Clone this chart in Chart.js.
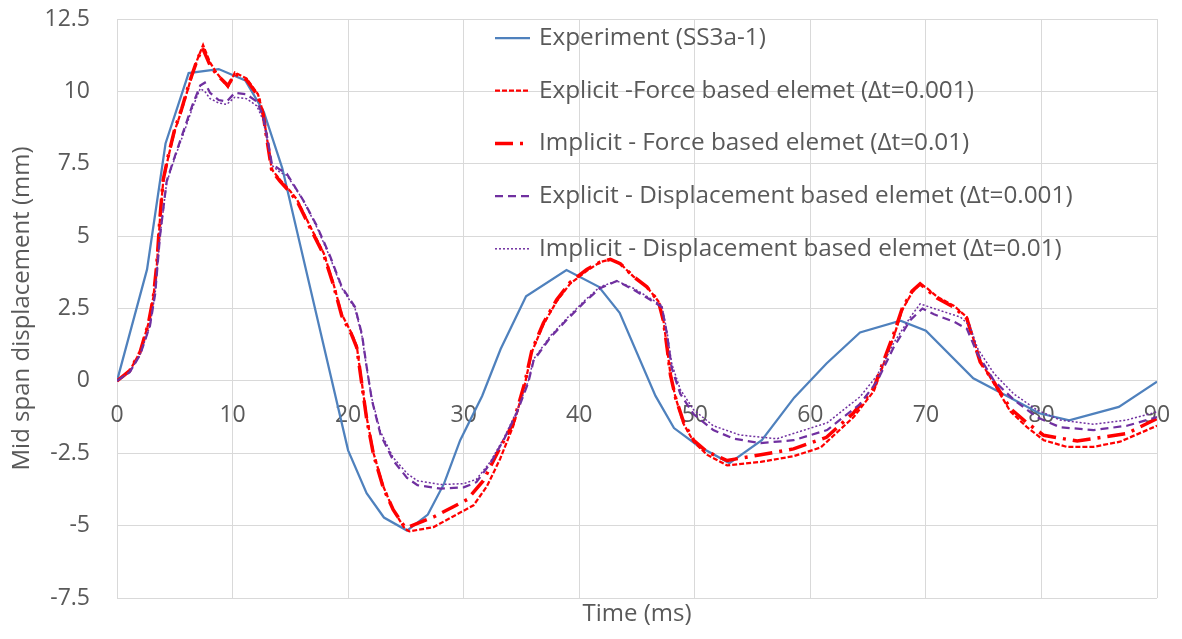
<!DOCTYPE html>
<html>
<head>
<meta charset="utf-8">
<script src="https://cdn.jsdelivr.net/npm/chart.js@4"></script>
<style>
  html, body { margin: 0; padding: 0; background: #fff; }
</style>
</head>
<body>
<canvas id="myChart" width="1182" height="639"></canvas>
<script>
"use strict"

const ctx = document.getElementById("myChart")

// Experiment (SS3a-1)
const expTime = [0, 2.6, 4.2, 6.2, 8.8, 11.1, 12.7, 14.3, 20.0, 21.6, 23.1, 25.1, 26.9, 28.3, 29.7, 31.6, 33.2, 35.4, 38.9, 41.7, 43.5, 46.6, 48.2, 50.3, 53.0, 55.8, 58.6, 61.4, 64.3, 67.8, 70.0, 74.1, 77.3, 79.8, 82.4, 86.7, 90]
const expDisp = [0, 3.85, 8.2, 10.63, 10.77, 10.38, 9.3, 7.35, -2.4, -3.88, -4.72, -5.17, -4.62, -3.55, -2.05, -0.52, 1.1, 2.92, 3.83, 3.25, 2.35, -0.52, -1.63, -2.25, -2.84, -2.05, -0.58, 0.6, 1.67, 2.08, 1.73, 0.09, -0.58, -1.12, -1.36, -0.9, -0.03]

// Explicit - force based (dt=0.001)
const efTime = [0, 1.1, 2.0, 2.7, 3.15, 3.45, 3.72, 4.0, 4.45, 5.0, 5.6, 6.3, 6.95, 7.45, 8.05, 8.6, 9.6, 10.2, 11.2, 12.2, 12.65, 12.95, 13.4, 14.1, 15.0, 15.6, 16.7, 17.9, 18.7, 19.45, 20.3, 20.75, 21.2, 21.6, 22.2, 23.05, 23.9, 24.9, 25.3, 27.4, 29.0, 30.85, 32.0, 33.15, 34.3, 35.3, 35.9, 36.9, 38.05, 39.2, 40.65, 41.8, 42.7, 43.55, 44.7, 45.85, 46.85, 47.3, 47.6, 47.9, 48.35, 49.05, 49.9, 51.05, 52.8, 55.7, 58.55, 60.9, 63.75, 65.5, 66.35, 67.2, 67.95, 68.8, 69.5, 70.1, 71.0, 72.4, 73.55, 74.15, 74.7, 75.9, 77.3, 78.75, 80.2, 82.2, 84.5, 86.8, 90]
const efDisp = [0, 0.35, 1.0, 1.95, 2.9, 4.0, 5.6, 6.9, 7.75, 8.65, 9.35, 10.3, 11.1, 11.6, 11.0, 10.65, 10.15, 10.65, 10.45, 9.9, 9.25, 8.45, 7.3, 6.95, 6.55, 6.25, 5.35, 4.4, 3.4, 2.3, 1.65, 1.2, -0.1, -1.25, -2.5, -3.65, -4.45, -5.1, -5.2, -5.05, -4.7, -4.3, -3.65, -2.7, -1.55, -0.1, 1.0, 1.95, 2.75, 3.35, 3.8, 4.1, 4.2, 4.05, 3.6, 3.25, 2.75, 2.05, 1.15, 0.2, -0.6, -1.5, -2.1, -2.55, -2.92, -2.8, -2.6, -2.3, -1.25, -0.35, 0.6, 1.5, 2.45, 3.05, 3.35, 3.2, 2.9, 2.6, 2.2, 1.4, 0.7, -0.1, -1.05, -1.6, -2.05, -2.28, -2.28, -2.1, -1.55]

// Implicit - force based (dt=0.01)
const ifTime = [0, 1.1, 2.0, 2.7, 3.15, 3.45, 3.72, 4.0, 4.45, 5.0, 5.6, 6.3, 6.95, 7.4, 8.05, 8.6, 9.6, 10.2, 11.2, 12.2, 12.65, 12.95, 13.4, 14.1, 15.0, 15.6, 16.7, 17.9, 18.7, 19.45, 20.3, 20.75, 21.2, 21.6, 22.2, 23.05, 23.9, 24.9, 25.2, 27.4, 30.3, 31.7, 32.9, 34.3, 35.3, 35.9, 36.9, 38.05, 39.2, 40.65, 41.8, 42.7, 43.55, 44.7, 45.85, 46.85, 47.3, 47.6, 47.9, 48.35, 49.05, 49.9, 51.05, 52.8, 55.7, 58.55, 61.4, 63.75, 65.5, 66.35, 67.2, 67.95, 68.8, 69.5, 70.1, 71.0, 72.4, 73.55, 74.15, 74.7, 75.9, 77.3, 78.75, 80.2, 83.1, 87.4, 90]
const ifDisp = [0, 0.35, 1.0, 1.95, 2.9, 4.05, 5.65, 6.95, 7.8, 8.7, 9.4, 10.35, 11.1, 11.5, 10.9, 10.6, 10.2, 10.6, 10.4, 9.85, 9.2, 8.4, 7.25, 6.9, 6.5, 6.2, 5.3, 4.35, 3.35, 2.25, 1.6, 1.15, -0.15, -1.3, -2.55, -3.7, -4.45, -5.05, -5.05, -4.7, -4.1, -3.45, -2.5, -1.45, -0.05, 1.05, 2.0, 2.8, 3.4, 3.85, 4.1, 4.2, 4.05, 3.6, 3.25, 2.75, 2.05, 1.15, 0.2, -0.6, -1.45, -2.05, -2.45, -2.75, -2.55, -2.35, -1.95, -1.1, -0.25, 0.7, 1.6, 2.5, 3.1, 3.35, 3.15, 2.85, 2.55, 2.15, 1.35, 0.65, -0.05, -0.95, -1.45, -1.88, -2.08, -1.82, -1.3]

// Explicit - displacement based (dt=0.001)
const edTime = [0, 1.1, 2.0, 2.85, 3.3, 3.72, 4.3, 5.0, 5.9, 6.5, 7.2, 7.6, 8.05, 8.8, 9.5, 10.2, 11.2, 12.1, 12.65, 13.1, 13.4, 14.1, 14.7, 16.1, 17.3, 18.45, 19.45, 20.6, 21.2, 21.6, 22.05, 22.8, 23.9, 25.1, 26.0, 28.0, 30.0, 31.1, 32.3, 33.45, 34.6, 35.6, 36.05, 37.5, 38.9, 40.4, 41.8, 43.25, 44.7, 46.15, 47.15, 47.6, 48.0, 48.75, 49.9, 51.6, 53.4, 55.7, 58.55, 61.45, 64.3, 65.8, 67.2, 68.65, 69.7, 70.7, 72.4, 73.55, 74.45, 75.9, 77.6, 79.6, 81.6, 84.5, 87.4, 90]
const edDisp = [0, 0.3, 0.9, 1.9, 3.0, 5.0, 6.9, 7.75, 8.8, 9.5, 10.2, 10.3, 9.95, 9.7, 9.65, 9.95, 9.9, 9.65, 9.15, 8.2, 7.5, 7.3, 7.15, 6.25, 5.35, 4.3, 3.25, 2.55, 1.6, 0.5, -0.65, -1.85, -2.75, -3.35, -3.6, -3.72, -3.68, -3.5, -2.85, -2.05, -1.1, -0.05, 0.7, 1.5, 2.1, 2.7, 3.2, 3.45, 3.15, 2.8, 2.55, 1.6, 0.45, -0.45, -1.15, -1.7, -2.0, -2.15, -2.05, -1.7, -0.8, 0.0, 1.15, 2.1, 2.5, 2.3, 2.05, 1.8, 0.95, 0.0, -0.65, -1.25, -1.6, -1.7, -1.55, -1.25]

// Implicit - displacement based (dt=0.01)
const idTime = [0, 1.1, 2.0, 2.85, 3.3, 3.72, 4.3, 5.0, 5.9, 6.5, 7.2, 7.6, 8.05, 8.8, 9.5, 10.2, 11.2, 12.1, 12.65, 13.1, 13.4, 14.1, 14.7, 16.1, 17.3, 18.45, 19.45, 20.6, 21.2, 21.6, 22.05, 22.8, 23.9, 25.1, 26.0, 28.0, 30.0, 31.1, 32.3, 33.45, 34.6, 35.6, 36.05, 37.5, 38.9, 40.4, 41.8, 43.25, 44.7, 46.15, 47.15, 47.6, 48.0, 48.75, 49.9, 51.6, 53.9, 57.1, 61.45, 64.3, 65.8, 67.2, 68.65, 69.5, 70.7, 73.0, 73.8, 74.5, 75.9, 77.6, 79.6, 81.6, 84.5, 87.4, 90]
const idDisp = [0, 0.3, 0.9, 1.9, 3.0, 5.0, 6.85, 7.7, 8.7, 9.4, 10.1, 10.0, 9.75, 9.6, 9.55, 9.8, 9.75, 9.5, 9.0, 8.1, 7.45, 7.2, 7.1, 6.25, 5.3, 4.25, 3.2, 2.5, 1.55, 0.45, -0.6, -1.75, -2.65, -3.2, -3.45, -3.58, -3.55, -3.4, -2.8, -2.0, -1.05, 0.0, 0.75, 1.55, 2.15, 2.75, 3.25, 3.45, 3.2, 2.85, 2.6, 1.7, 0.6, -0.3, -1.0, -1.55, -1.87, -2.0, -1.45, -0.55, 0.2, 1.3, 2.2, 2.66, 2.5, 2.2, 1.9, 1.1, 0.25, -0.45, -1.0, -1.35, -1.5, -1.35, -1.07]

const seriesLabels = [
  "Experiment (SS3a-1)",
  "Explicit -Force based elemet (\u0394t=0.001)",
  "Implicit - Force based elemet (\u0394t=0.01)",
  "Explicit - Displacement based elemet (\u0394t=0.001)",
  "Implicit - Displacement based elemet (\u0394t=0.01)"
]

const xTicks = { min: 0, max: 90, step: 10 }
const yTicks = { min: -7.5, max: 12.5, step: 2.5 }

const textGrey = "#595959"
const gridGrey = "#d9d9d9"
const family = "'Open Sans', sans-serif"

function pts(t, v){
  return t.map((x, i) => ({ x: x, y: v[i] }))
}

// legend drawn inside the plot, like the excel one
const insideLegend = {
  id: "insideLegend",
  afterDraw(chart){
    const c = chart.ctx
    const area = chart.chartArea
    chart.data.datasets.forEach((ds, i) => {
      const y = area.top + 19 + 52.7 * i
      const x0 = area.left + 378
      c.save()
      c.strokeStyle = ds.borderColor
      c.lineWidth = ds.borderWidth
      c.setLineDash(ds.borderDash || [])
      c.beginPath()
      c.moveTo(x0, y)
      c.lineTo(x0 + 35, y)
      c.stroke()
      c.setLineDash([])
      c.fillStyle = textGrey
      c.font = "24.3px " + family
      c.textBaseline = "middle"
      c.textAlign = "left"
      c.fillText(ds.label, x0 + 44, y)
      c.restore()
    })
  }
}

let graph = new Chart(ctx, {
  type: "line",
  data: {
    datasets: [
      {
        label: seriesLabels[0],
        data: pts(expTime, expDisp),
        borderColor: "#4F81BD",
        borderWidth: 2.25,
        order: 5
      },
      {
        label: seriesLabels[1],
        data: pts(efTime, efDisp),
        borderColor: "#FF0000",
        borderWidth: 2.25,
        borderDash: [5, 2],
        order: 4
      },
      {
        label: seriesLabels[2],
        data: pts(ifTime, ifDisp),
        borderColor: "#FF0000",
        borderWidth: 3.5,
        borderDash: [18, 7, 3, 7],
        order: 3
      },
      {
        label: seriesLabels[3],
        data: pts(edTime, edDisp),
        borderColor: "#7030A0",
        borderWidth: 2.25,
        borderDash: [8, 5],
        order: 2
      },
      {
        label: seriesLabels[4],
        data: pts(idTime, idDisp),
        borderColor: "#7030A0",
        borderWidth: 1.5,
        borderDash: [2, 2],
        order: 1
      }
    ]
  },
  options: {
    responsive: false,
    animation: false,
    layout: {
      padding: { left: 0, right: 25, top: 19, bottom: 0 }
    },
    elements: {
      point: { radius: 0 },
      line: { tension: 0, fill: false }
    },
    plugins: {
      legend: { display: false },
      tooltip: { enabled: false }
    },
    scales: {
      x: {
        type: "linear",
        position: "bottom",
        min: xTicks.min,
        max: xTicks.max,
        ticks: { display: false, stepSize: xTicks.step },
        grid: { color: gridGrey, drawTicks: false },
        border: { display: false },
        title: {
          display: true,
          text: "Time (ms)",
          color: textGrey,
          font: { family: family, size: 24 },
          padding: { top: 0, bottom: 10 }
        },
        afterFit: (scale) => {
          scale.height = 41
          scale.paddingLeft = 0
          scale.paddingRight = 0
        }
      },
      // tick labels sit under the zero line
      xLabels: {
        type: "linear",
        position: { y: 0 },
        min: xTicks.min,
        max: xTicks.max,
        ticks: {
          stepSize: xTicks.step,
          color: textGrey,
          font: { family: family, size: 23 },
          padding: 21
        },
        grid: { display: false, drawTicks: false },
        border: { display: false },
        afterFit: (scale) => {
          scale.height = 0
          scale.paddingLeft = 0
          scale.paddingRight = 0
        }
      },
      y: {
        type: "linear",
        position: "left",
        min: yTicks.min,
        max: yTicks.max,
        ticks: {
          stepSize: yTicks.step,
          color: textGrey,
          font: { family: family, size: 23 },
          padding: 27,
          callback: (v) => String(v)
        },
        grid: { color: gridGrey, drawTicks: false },
        border: { display: false },
        title: {
          display: true,
          text: "Mid span displacement (mm)",
          color: textGrey,
          font: { family: family, size: 24 },
          padding: { top: 8, bottom: 0 }
        },
        afterFit: (scale) => {
          scale.width = 117
          scale.paddingTop = 0
          scale.paddingBottom = 0
        }
      }
    }
  },
  plugins: [insideLegend]
})
</script>
</body>
</html>
